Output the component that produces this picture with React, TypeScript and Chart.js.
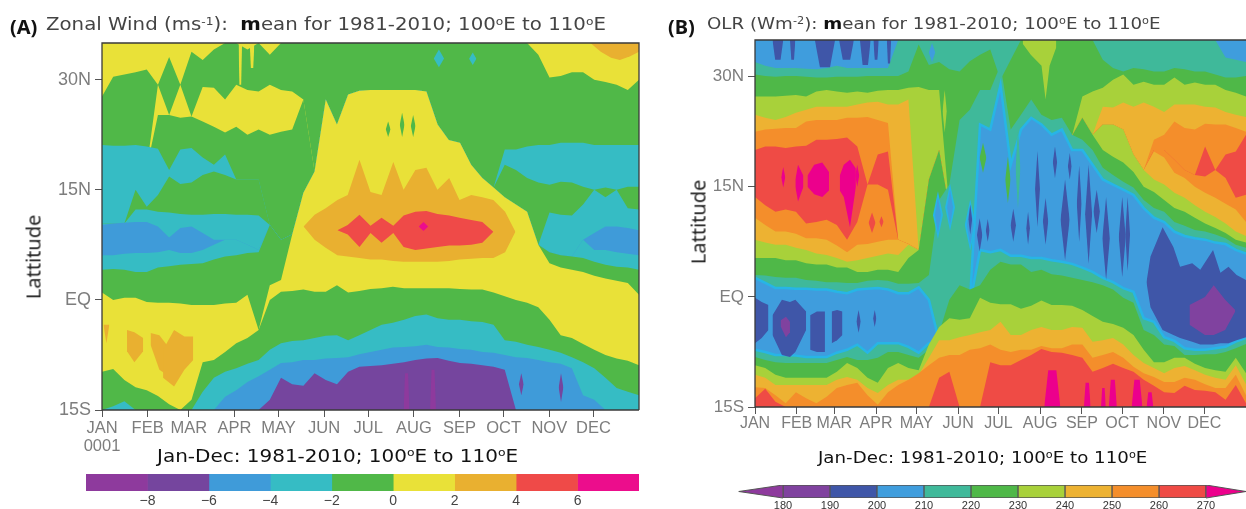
import React, { useEffect, useRef } from "react";
import { Chart, registerables } from "chart.js";

Chart.register(...registerables);

// ---------- shared axes ----------
const monthStarts = [0, 31, 59, 90, 120, 151, 181, 212, 243, 273, 304, 334];
const monthNames = ["JAN", "FEB", "MAR", "APR", "MAY", "JUN", "JUL", "AUG", "SEP", "OCT", "NOV", "DEC"];
const latTicks = [-15, 0, 15, 30];
const latLabels = ["15S", "EQ", "15N", "30N"];
const gridDays = Array.from({ length: 49 }, (_, i) => (i * 365) / 48);

// ---------- panel A colours ----------
const windColors = {
  pur2: "#8e3a9d", pur: "#75459e", blue: "#3f9bd9", teal: "#36bcc4", green: "#50b848",
  yellow: "#e9e138", orange: "#e9b030", red: "#ef4a48", pink: "#ec0d8c",
};

// ---------- panel A: latitude of each contour by time step (north to south) ----------
const windTop = gridDays.map(() => 35);
const windG1 = [27.7,30.4,30.7,31,31.4,29.3,33.1,29.3,33.8,32.7,34.1,35,35,34.1,35,33.4,35,35,35,35,35,35,35,35,35,35,35,35,35,35,35,35,35,35,35,35,35,35,35,33.4,30.3,30.5,31,31,30,29.7,29.3,28.6,30];
const windY2 = [18,18,18,18,18,29.3,25.2,29.3,25,29,28.9,27.3,29.3,28.6,28.4,29.3,28.6,28.4,27.3,17.5,27.3,23.9,28,28.5,28.6,28.6,28.6,28.6,28.6,28.4,12,12,12,12,12,12,12,12,12,12,12,12,12,12,12,12,12,12,12];
const windG2 = [18,18,18,18,18,25.2,25.2,24.8,25,24.3,23.6,22.8,23.6,22.5,23.2,22.5,22.9,23.2,27.3,17.5,27.3,23.9,28,28.5,28.6,28.6,28.6,28.6,28.6,28.4,12,12,12,12,12,12,12,12,12,12,12,12,12,12,12,12,12,12,12];
const windT1 = [21.1,21,21,21.1,20.9,20.6,17.7,20.5,20.7,19.4,18.4,19.8,16.4,16.4,16.4,10.2,8.2,8.9,14.6,17.5,27.3,23.9,28,28.5,28.6,28.6,28.6,28.6,28.6,28.4,23.9,21.8,21.4,18.4,16.6,15.3,20.5,20.5,20.9,21.1,21.1,21.4,21.4,21.4,21.1,21.1,21.1,21.1,21.1];
const windGm = [10.4,10.4,10.4,15,12.7,14.3,16.8,15.8,16,17,17.5,17,16.4,16.4,16.4,10.2,8.2,8.9,14.6,17.5,27.3,23.9,28,28.5,28.6,28.6,28.6,28.6,28.6,28.4,23.9,21.8,21.4,18.4,16.6,15.3,18.4,17.7,16.6,16,15.7,16.1,16,15.4,15,15.3,15,15.4,15.4];
const windT2 = [10.4,10.4,10.4,12.3,12.3,12,11.9,11.7,11.6,11.6,11.7,11.7,11.6,11.6,11.5,10.2,8.2,8.9,14.6,17.5,27.3,23.9,28,28.5,28.6,28.6,28.6,28.6,28.6,28.4,23.9,21.8,21.4,18.4,16.6,15.3,14,13,12,7.5,11.9,11.6,11.5,13,15,14,15,12.5,12.3];
const windB1 = [10.2,10.4,10.5,10.6,10.6,10,8.5,9.8,10,9.1,8.2,8.2,8.2,7.5,6.8,10.2,8.2,8.9,14.6,17.5,27.3,23.9,28,28.5,28.6,28.6,28.6,28.6,28.6,28.4,23.9,21.8,21.4,18.4,16.6,15.3,14,13,12,7.5,6.5,6.1,5.9,8.2,9.1,10,10,9.8,9.5];
const windT3 = [6.1,6.1,6.3,6.4,6.4,6.5,6.8,6.4,6.4,6.8,7.5,8.2,8.2,7.5,6.8,10.2,8.2,8.9,14.6,17.5,27.3,23.9,28,28.5,28.6,28.6,28.6,28.6,28.6,28.4,23.9,21.8,21.4,18.4,16.6,15.3,14,13,12,7.5,6.5,6.1,5.9,8.2,6.8,6.8,6.5,6.3,6.1];
const windG3 = [4.1,4.2,4.1,3.8,3.8,4.4,4.6,4.8,4.9,5,5.5,5.9,6.1,6.4,6.5,10.2,8.2,8.9,14.6,17.5,27.3,23.9,28,28.5,28.6,28.6,28.6,28.6,28.6,28.4,23.9,21.8,21.4,18.4,16.6,15.3,14,13,12,7.5,6.5,6.1,5.9,5.7,5.2,4.8,4.5,4.4,4.1];
const windY3 = [1,0,0.3,0.3,-0.3,-0.4,-0.4,-0.5,-0.7,-0.7,-0.7,-0.5,-0.4,0.7,-4.1,2,2.7,8.9,14.6,17.5,27.3,23.9,28,28.5,28.6,28.6,28.6,28.6,28.6,28.4,23.9,21.8,21.4,18.4,16.6,15.3,14,13,12,7.5,5,4.4,4.1,3.8,3.3,2.9,2.6,2.3,0.7];
const windG4 = [-9.8,-9.4,-10.9,-11.9,-12.3,-13.1,-14.2,-15,-13.6,-8.5,-8.2,-7.1,-5.9,-5.2,-4.1,0,1.1,1.2,1.4,1.1,1.1,2,1,1.2,1.5,1.6,1.8,1.6,1.6,1.6,1.6,1.6,1.5,1.4,1.4,1,0.5,0,-0.4,-1,-2.7,-4.8,-5.2,-6,-6.8,-7.5,-8,-8.3,-8.9];
const windT4 = [-15,-14.5,-13.8,-15,-15,-15,-15,-15,-15,-12.5,-10.6,-9.8,-9.3,-8.7,-8.2,-6.8,-5.9,-5.6,-5.5,-5.2,-4.9,-4.8,-5.5,-4.8,-4.1,-3.4,-3.1,-2.7,-2.2,-2,-2.5,-2.7,-2.7,-2.9,-3,-3.4,-5.5,-5.7,-6.1,-6.4,-6.8,-7.2,-7.8,-8.5,-9.3,-10.6,-12,-12.5,-13];
const windB2 = [-15,-15,-15,-15,-15,-15,-15,-15,-15,-15,-15,-13.2,-12.3,-11.2,-10.4,-9.5,-8.6,-8.5,-8.2,-8.2,-8,-7.9,-7.8,-7.4,-7.1,-6.8,-6.5,-6.4,-6.3,-6.1,-6.4,-6.5,-6.7,-6.8,-7.1,-7.2,-7.5,-7.8,-7.9,-8.2,-8.5,-8.7,-9.3,-13,-13.6,-15,-15,-15,-15];
const windP = [-15,-15,-15,-15,-15,-15,-15,-15,-15,-15,-15,-15,-15,-15,-15,-13.6,-10.6,-11.5,-11.7,-10,-10.9,-11.5,-9.8,-9.1,-9,-8.9,-8.7,-8.5,-8.2,-8,-7.9,-8.3,-8.6,-8.7,-8.9,-9.1,-9.5,-15,-15,-15,-15,-15,-15,-15,-15,-15,-15,-15,-15];

// panel A closed patches: days, upper latitude, lower latitude
const windOrangeDays = [137,144.5,152,160,167,175,182.5,190,198,205,213,220.5,228,236,243,251,258.5,266,274,281];
const windOrangeTop = [10,11.6,12.5,13.6,14.3,19.1,14.7,14.3,18.8,15,17.7,18,15,16.6,13.6,14.3,14,13.6,12,9.3];
const windOrangeBottom = [10,8.2,7.1,6.1,5.9,5.7,5.5,5.5,5.3,5.2,5.2,5.2,5.2,5.3,5.5,5.6,5.7,5.7,6.5,9.3];
const windRedDays = [160,167,175,182.5,190,198,205,213,220.5,228,236,243,251,258.5,266];
const windRedTop = [9.5,10.2,11.6,10.1,11.2,10.1,11.5,12,12.1,11.7,11.5,11.2,10.9,10.6,9.3];
const windRedBottom = [9.5,8.9,7.2,9.1,7.8,9.1,7.2,6.8,7,7.2,7.4,7.4,7.5,7.8,9.3];
const windOrangeSouthDays = [[17,22,28],[33,39,44],[41.5,49,56,62],[1,3,5]];
const windOrangeSouthTop = [[-4.1,-4.4,-5.2],[-4.5,-4.8,-6.1],[-6.8,-4.1,-5,-5],[-3.4,-3.4,-3.4]];
const windOrangeSouthBottom = [[-7,-8.5,-7],[-6.1,-9.5,-10.2],[-10.6,-11.8,-9.5,-8.2],[-3.4,-5.9,-3.4]];
const windOrangeNorthDays = [332,339,346,352,359,365];
const windOrangeNorthBottom = [35,33.8,33,32.7,33.2,33.8];
// [day, half width, latitude a, latitude b]
const windPinkDiamonds = [[218.5,3.2,10.6,9.4]];
const windGreenStreaks = [[194.5,1.6,24.3,22.2],[204,1.6,25.5,22.2],[211.5,1.6,25.2,22.2]];
const windTealStreaks = [[229,3.5,34.1,31.7],[252,2.5,33.7,32]];
const windYellowSpikes = [[94,1.2,29.3,35],[102,1.6,31.6,35]];
const windPurpleStreaks = [[285,1.6,-10,-13],[312,1.6,-10,-13.9]];
const windPur2Streaks = [[207,2,-10,-15],[225,2,-9.5,-15]];

// ---------- panel B colours ----------
const olrColors = {
  pur: "#80429f", indigo: "#3f56a8", blue: "#3f9ddd", cyan: "#27b5e6", teal: "#3fb99a",
  green: "#4fb848", lime: "#a8d13a", gold: "#edb232", orange: "#f48e2b", red: "#ef4b45", pink: "#ec008c",
};

// ---------- panel B: latitude of each contour by time step (north to south) ----------
const olrTop = gridDays.map(() => 35);
const olrT1 = [32,31.5,31.2,31.2,31.2,31.1,31,31.2,31.5,31.2,31.2,31.2,31.2,31.2,35,35,35,35,35,35,35,35,35,35,35,35,35,35,35,35,35,35,35,35,35,35,35,35,35,35,35,35,35,35,35,35,32.6,32.3,32];
const olrG1 = [30.3,30.1,30,30.1,30.1,30,29.9,29.9,30,30,30,30.1,30.1,30.1,30.1,30.7,34.4,31.6,32,31,30.7,32.1,33,33.7,29.6,32.3,35,35,35,35,35,35,35,35,32.3,31.2,30.7,31.2,31,30.7,30.7,31.2,31,30.7,30.7,30.3,29.9,29.9,30.1];
const olrL1 = [27.3,27.3,27.3,27.4,27.5,27.3,28,28.2,28,27.8,28,27.8,28.1,28.2,28.2,28.5,28.6,28.2,28.2,12,12,12,12,12,12,12,12,12,12,12,12,22,27.3,28,28.5,29.6,30.3,28.9,29.3,28.9,28.9,29.9,28.9,29.2,28.9,28.9,28.2,27.8,27.3];
const olrAu1 = [24.8,24.4,24.1,24.5,25.1,25.5,25.9,25.9,25.9,25.9,26.2,26.5,26.6,26.2,26.2,26.9,6.4,16,20,12,12,12,12,12,12,12,12,12,12,12,12,22,24.4,22.1,25.9,25.8,26.5,25.9,26.5,25.9,25.2,26.2,26.2,26.2,25.9,25.8,25.2,24.8,24.5];
const olrO1 = [22.5,22.8,22.9,23,23,23.9,24.1,24.1,24.1,24.4,24.4,24.5,24.1,23.7,7.8,7.2,6.4,16,20,12,12,12,12,12,12,12,12,12,12,12,12,22,24.4,22.1,23.5,23.5,22.8,19.4,17.3,21.4,22.1,23.9,23,22.8,23.6,23.5,23.5,23,22.5];
const olrR1 = [20,20.5,20.5,20.3,20.5,20.6,21.4,21.4,21.5,21.7,20.5,15.3,19.4,19.8,7.8,7.2,6.4,16,20,12,12,12,12,12,12,12,12,12,12,12,12,22,24.4,22.1,23.5,23.5,22.8,19.4,17.3,20,20,18.7,17.3,16.6,20.5,17.3,19.4,19.8,22.1];
const olrO2 = [13.6,12.5,11.6,11.9,11.6,10,10.2,10.5,9.8,7.8,10.2,15.3,15.3,14.6,7.8,7.2,6.4,16,20,12,12,12,12,12,12,12,12,12,12,12,12,22,24.4,22.1,23.5,23.5,22.8,19.4,17.3,20,20,18.7,17.3,16.6,16.4,17.3,16.2,13.5,13.9];
const olrAu2 = [10.8,9.8,8.9,8.9,8.6,8,8,7.8,7,6.1,7.1,7.2,7.5,7.8,7.8,7.2,6.4,16,20,12,12,12,12,12,12,12,12,12,12,12,12,22,24.4,22.1,23.5,23.5,22.8,19.4,17.3,19.8,19,16.9,16.2,15,14.2,13.5,12.7,11.9,10.2];
const olrLs = [7.8,7.4,7.1,7.1,6.7,6.4,5.9,5.7,5.3,4.8,5,5.3,5.6,5.9,5.7,7.1,6.4,16,20,12,12,12,12,12,12,12,12,12,12,12,12,22,24.4,22.1,23.5,23.5,22.8,19.4,17.3,16,15.3,14.2,13.5,12.5,11.6,10.9,10,8.9,8.3];
const olrL2 = [5.3,5.3,5.3,5,5,4.6,4.4,4.4,4,4,3.4,3.4,3.7,3.7,3.4,5.3,6.4,16,20,12,12,12,12,12,12,12,12,12,12,12,12,22,24.4,22.1,20,19.1,18.3,17,15,14.3,13.2,12.1,11.6,10.8,10,9.4,8.7,7.8,7.4];
const olrT2 = [3,2.9,2.7,2.6,2.6,2.3,2.2,2,2,1.9,1.9,2.2,2.3,2.2,1.8,1.8,1.9,3,13.2,15.3,24.1,25.5,28.2,28.2,31.6,22.8,24.8,26.9,24.8,24.1,24.4,22.1,21.4,20,17.6,16.6,15.7,14.9,13.2,12.1,11.6,10.2,9.7,9.1,8.9,8.5,8,7.1,6.7];
const olrB2 = [2.6,1.9,1.2,1.2,1.1,1.1,1,1,0.7,0.5,1,1.1,1.2,1,0.5,0.5,1.3,-0.4,-6,-3,0,-1,23.5,22.8,28.9,18,22.8,24.4,23.5,22.1,22.8,20,20,18,16,15.3,14.6,13.9,12.1,10.8,10.2,8.9,8.3,8,7.8,7.4,7.2,6.4,5.9];
const olrT3 = [-7.2,-7.5,-7.9,-7.9,-8,-8.2,-8.2,-8.2,-7.6,-7.2,-6.5,-7.6,-6.3,-6.3,-6.3,-6.8,-7.6,-6.3,-6,-3,0,-1,6.4,6.1,6.4,5.6,5.6,5.3,5.3,5,4.8,4.5,4,3.4,2.6,2,1.2,0.7,-2.9,-3.4,-5.5,-6,-7,-7.2,-7.2,-7,-6.8,-6.1,-5.6];
const olrG3 = [-8.2,-8.6,-8.9,-9,-9,-9,-9,-9,-8.6,-8.2,-8.6,-8.6,-8.3,-7.5,-7.5,-7.9,-8.3,-7.2,-4.9,-0.4,1.6,1,1.6,3.7,4.8,4.4,4.4,3.4,3.7,3.1,2.9,2.6,2.3,2,1.6,1,-0.1,-0.8,-4.5,-5.2,-6.5,-6.7,-7.9,-7.9,-7.8,-7.8,-7.5,-7,-6.4];
const olrL3 = [-9.3,-9.7,-10.6,-11,-11,-11,-11,-11,-10.2,-9,-9.7,-11,-11.7,-9.7,-9,-9.7,-10,-6.5,-4.1,-2.9,-3.1,-2.9,-0.1,-0.8,-1,-1,-1.6,-1.2,-0.5,-1.1,-1.1,-1.2,-1.8,-2.6,-3.4,-3.7,-4.2,-5.2,-7.2,-8.9,-8.9,-8.3,-8.3,-9.1,-9.7,-10,-10.2,-8.3,-10.4];
const olrAu3 = [-10.6,-11,-12,-12,-12,-12,-12,-12,-11.3,-10.9,-11.3,-12.4,-13.1,-12,-11.3,-11.3,-10.6,-8.3,-5.9,-5.9,-5.5,-5.2,-4.8,-4.5,-3.4,-5.2,-5.2,-4.5,-4.1,-4.5,-4.5,-4.1,-4.2,-6.1,-5.9,-5.6,-6.5,-7.9,-9,-9.7,-10.4,-9.7,-9.4,-10,-10.6,-11,-11.3,-9.3,-11.9];
const olrO3 = [-12.3,-12.4,-13.4,-14.5,-13,-13.8,-14.5,-13.6,-12.4,-12,-11.7,-13.4,-14.7,-13,-12,-11.3,-10.4,-9.3,-8.3,-7.9,-7.9,-7.2,-7,-6.5,-7.2,-7.5,-7.2,-7.2,-6.7,-7,-7,-6.5,-6.5,-8.3,-7.9,-7.5,-8.3,-9.5,-10.4,-10.9,-11.6,-11.6,-11,-11.3,-11.9,-12.4,-12.4,-10.6,-13.4];
const olrR3 = [-13.8,-12.5,-14.3,-15,-15,-15,-15,-15,-15,-15,-15,-15,-15,-15,-15,-15,-15,-15,-11,-10.2,-15,-15,-15,-8.9,-9.3,-9.3,-8.6,-7.9,-7.1,-7.5,-7.6,-7.9,-8.3,-10.2,-9.7,-9.1,-9.7,-10.2,-11.3,-12.1,-13,-13.1,-12.1,-12.7,-12.8,-13,-14,-12,-14.5];

// panel B closed patches
const olrIndigoDays = [[0,5,10],[13,20,26,30,38],[41,46,52],[57,61,65],[291,294,303,311,316,325,331,340.5,346,352,358,365]];
const olrIndigoTop = [[-0.1,-0.7,-1.1],[-2.5,-0.4,-0.7,-0.4,-2],[-2.5,-2,-2],[-2,-1.8,-2],[2,5.5,9.5,6.8,4.1,4.6,3.7,6.4,3.3,4.1,3,2.3]];
const olrIndigoBottom = [[-6.3,-5.6,-4.5],[-5.2,-7.9,-8.2,-7.5,-4.5],[-7.2,-7.5,-7.5],[-6.3,-5.9,-5.2],[2,-1.4,-4.5,-5.2,-5.6,-6.1,-6.5,-6.5,-6.3,-6.3,-5.9,-5.5]];
const olrPurpleDays = [[19,23,26],[323,334.5,341,349.5,357]];
const olrPurpleTop = [[-3.2,-2.7,-3.4],[-1.1,0,1.6,-0.4,-1.8]];
const olrPurpleBottom = [[-4,-5.5,-4.8],[-3.8,-5.2,-5.2,-4.5,-2]];
const olrLimeNorthDays = [199,205,213,216,219,224];
const olrLimeNorthBottom = [34.5,33,31.5,26.9,31.5,34];
const olrPinkBlobDays = [[30,32,36],[39,44,50,55],[63,66,70.6,75]];
const olrPinkBlobTop = [[16,18,16.5],[16.5,18,18.3,17],[16.5,18,18.7,17.5]];
const olrPinkBlobBottom = [[15,13,15],[15,14,13.6,14.5],[14.5,13.6,9.5,15]];
// [day, half width, latitude a, latitude b]
const olrBlueGlowStreaks = [[136,2.2,13.6,8.7],[145,2.2,14.6,9.8],[160,2.6,12.5,7.1]];
const olrIndigoStreaks = [[77,1.6,-1.8,-4.9],[89,1.2,-1.8,-4.1],[160,1.4,12.6,8.5],[167,2,10.7,6.2],[173,1.4,10.6,7.5],[192,2,12,7.5],[203,1.4,11.6,7.1],[210,1.8,19.9,9.5],[216,2,13.5,7.1],[223,1.6,20.5,16.2],[230.5,3.4,16,5],[234,1.4,19.6,16],[241,1.8,17.9,7.5],[248,2.6,18,4.5],[254,2.4,14.6,8.7],[261,2.8,13.6,2.3],[273,2.6,13.6,2.7],[277,1.8,13.6,3.5]];
const olrIndigoTopSpikes = [[17,4,32.3,35],[28,2,32.3,35],[52,7.5,31.3,35],[68,5.5,32.3,35],[82,4,31.6,35],[90,2,32.3,35],[99.6,1.6,31.8,35]];
const olrPinkStreaks = [[21,1.5,17.7,14.9],[76,1.5,18,15]];
const olrPinkSouthSpikes = [[221,6,-10,-15],[247,2.5,-11.7,-15],[259,1.8,-12.4,-15],[266,3,-11.3,-15],[284,4,-11.3,-15],[293.6,2.5,-13,-15]];
const olrRedStreaks = [[87,2.6,11.5,8.7],[94,1.6,11,9.5]];
const olrGreenStreaks = [[169.5,2.5,21,16.9],[188,2,19.1,12.8]];
const olrTealStreaks = [[195.5,1.8,23,12]];
const olrLimeStreaks = [[141,1.6,28.2,22.4]];
const olrBlueStreaks = [[131.6,2.4,34.6,32]];

// ---------- colour bars ----------
const windBarEdges = [-10, -8, -6, -4, -2, 0, 2, 4, 6, 8];
const windBarColors = [windColors.pur2, windColors.pur, windColors.blue, windColors.teal, windColors.green, windColors.yellow, windColors.orange, windColors.red, windColors.pink];
const windBarTicks = [-8, -6, -4, -2, 0, 2, 4, 6];
const olrBarEdges = [180, 190, 200, 210, 220, 230, 240, 250, 260, 270];
const olrBarColors = [olrColors.pur, olrColors.indigo, olrColors.blue, olrColors.teal, olrColors.green, olrColors.lime, olrColors.gold, olrColors.orange, olrColors.red];
const olrBarTicks = [180, 190, 200, 210, 220, 230, 240, 250, 260, 270];

type Layer = { values: number[]; color: string; edge?: string };
type Patch = { color: string; days: number[]; top: number[]; bottom: number[] };

const diamond = (color: string, s: number[]): Patch => {
  const mid = (s[2] + s[3]) / 2;
  return { color, days: [s[0] - s[1], s[0], s[0] + s[1]], top: [mid, s[2], mid], bottom: [mid, s[3], mid] };
};
const spike = (color: string, s: number[]): Patch => ({
  color,
  days: [s[0] - s[1], s[0] - s[1] / 2, s[0] + s[1] / 2, s[0] + s[1]],
  top: [s[3], s[2], s[2], s[3]],
  bottom: [s[3], s[3], s[3], s[3]],
});
const groupPatches = (color: string, d: number[][], t: number[][], b: number[][]): Patch[] =>
  d.map((days, i) => ({ color, days, top: t[i], bottom: b[i] }));

const W = windColors;
const windLayers: Layer[] = [
  { values: windTop, color: W.yellow }, { values: windG1, color: W.green }, { values: windY2, color: W.yellow },
  { values: windG2, color: W.green }, { values: windT1, color: W.teal }, { values: windGm, color: W.green },
  { values: windT2, color: W.teal }, { values: windB1, color: W.blue }, { values: windT3, color: W.teal },
  { values: windG3, color: W.green }, { values: windY3, color: W.yellow }, { values: windG4, color: W.green },
  { values: windT4, color: W.teal }, { values: windB2, color: W.blue }, { values: windP, color: W.pur },
];
const windPatches: Patch[] = [
  { color: W.orange, days: windOrangeDays, top: windOrangeTop, bottom: windOrangeBottom },
  { color: W.red, days: windRedDays, top: windRedTop, bottom: windRedBottom },
  ...groupPatches(W.orange, windOrangeSouthDays, windOrangeSouthTop, windOrangeSouthBottom),
  { color: W.orange, days: windOrangeNorthDays, top: windOrangeNorthDays.map(() => 35), bottom: windOrangeNorthBottom },
  ...windPinkDiamonds.map((s) => diamond(W.pink, s)),
  ...windGreenStreaks.map((s) => diamond(W.green, s)),
  ...windTealStreaks.map((s) => diamond(W.teal, s)),
  ...windYellowSpikes.map((s) => spike(W.yellow, s)),
  ...windPurpleStreaks.map((s) => diamond(W.pur, s)),
  ...windPur2Streaks.map((s) => spike(W.pur2, s)),
];

const O = olrColors;
const olrLayers: Layer[] = [
  { values: olrTop, color: O.blue }, { values: olrT1, color: O.teal }, { values: olrG1, color: O.green },
  { values: olrL1, color: O.lime }, { values: olrAu1, color: O.gold }, { values: olrO1, color: O.orange },
  { values: olrR1, color: O.red }, { values: olrO2, color: O.orange }, { values: olrAu2, color: O.gold },
  { values: olrLs, color: O.lime }, { values: olrL2, color: O.green }, { values: olrT2, color: O.teal },
  { values: olrB2, color: O.blue, edge: O.cyan }, { values: olrT3, color: O.teal, edge: O.cyan },
  { values: olrG3, color: O.green }, { values: olrL3, color: O.lime }, { values: olrAu3, color: O.gold },
  { values: olrO3, color: O.orange }, { values: olrR3, color: O.red },
];
const olrPatches: Patch[] = [
  ...olrGreenStreaks.map((s) => diamond(O.green, s)),
  ...olrTealStreaks.map((s) => diamond(O.teal, s)),
  ...olrBlueGlowStreaks.map((s) => diamond(O.cyan, [s[0], s[1] + 1.5, s[2] + 0.8, s[3] - 0.8])),
  ...olrBlueGlowStreaks.map((s) => diamond(O.blue, s)),
  ...groupPatches(O.indigo, olrIndigoDays, olrIndigoTop, olrIndigoBottom),
  ...groupPatches(O.pur, olrPurpleDays, olrPurpleTop, olrPurpleBottom),
  { color: O.lime, days: olrLimeNorthDays, top: olrLimeNorthDays.map(() => 35), bottom: olrLimeNorthBottom },
  ...olrIndigoStreaks.map((s) => diamond(O.indigo, s)),
  ...olrIndigoTopSpikes.map((s) => spike(O.indigo, s)),
  ...groupPatches(O.pink, olrPinkBlobDays, olrPinkBlobTop, olrPinkBlobBottom),
  ...olrPinkStreaks.map((s) => diamond(O.pink, s)),
  ...olrPinkSouthSpikes.map((s) => spike(O.pink, s)),
  ...olrRedStreaks.map((s) => diamond(O.red, s)),
  ...olrLimeStreaks.map((s) => diamond(O.lime, s)),
  ...olrBlueStreaks.map((s) => diamond(O.blue, s)),
];

const AXIS_FONT = "'Liberation Sans', Arial, sans-serif";

function heatChart(
  canvas: HTMLCanvasElement,
  layers: Layer[],
  patches: Patch[],
  o: { axisW: number; axisH: number; top: number; right: number; latSize: number; monthSize: number; firstLabel: string[] | string; frameRight: boolean; tickPad: number }
) {
  const datasets: any[] = [];
  layers.forEach((l) => {
    datasets.push({
      type: "line",
      data: gridDays.map((d, i) => ({ x: d, y: l.values[i] })),
      fill: "start",
      backgroundColor: l.color,
      borderColor: l.edge ?? l.color,
      borderWidth: l.edge ? 2.5 : 0,
      pointRadius: 0,
      tension: 0,
      order: -datasets.length,
    });
  });
  patches.forEach((p) => {
    const lowIndex = datasets.length + 1;
    datasets.push({
      type: "line",
      data: p.days.map((d, i) => ({ x: d, y: p.top[i] })),
      fill: lowIndex,
      backgroundColor: p.color,
      borderWidth: 0,
      pointRadius: 0,
      tension: 0,
      order: -datasets.length,
    });
    datasets.push({
      type: "line",
      data: p.days.map((d, i) => ({ x: d, y: p.bottom[i] })),
      fill: false,
      borderWidth: 0,
      pointRadius: 0,
      tension: 0,
      order: -datasets.length,
    });
  });
  return new Chart(canvas, {
    type: "line",
    data: { datasets },
    options: {
      animation: false,
      responsive: false,
      layout: { autoPadding: false, padding: { top: o.top, right: o.right, left: 0, bottom: 0 } },
      plugins: { legend: { display: false }, tooltip: { enabled: false } },
      scales: {
        x: {
          type: "linear",
          min: 0,
          max: 365,
          border: { display: false },
          grid: { drawOnChartArea: false, tickLength: 7, tickColor: "#555" },
          afterBuildTicks: (s: any) => { s.ticks = monthStarts.map((value) => ({ value })); },
          afterFit: (s: any) => { s.height = o.axisH; },
          ticks: {
            autoSkip: false,
            maxRotation: 0,
            padding: o.tickPad,
            color: "#7d7d7d",
            font: { family: AXIS_FONT, size: o.monthSize, lineHeight: 1.1 },
            callback: (_v: any, i: number) => (i === 0 ? o.firstLabel : monthNames[i]),
          },
        },
        y: {
          type: "linear",
          min: -15,
          max: 35,
          border: { display: false },
          grid: { drawOnChartArea: false, tickLength: 7, tickColor: "#555" },
          afterBuildTicks: (s: any) => { s.ticks = latTicks.map((value) => ({ value })); },
          afterFit: (s: any) => { s.width = o.axisW; },
          ticks: {
            padding: 4,
            color: "#7d7d7d",
            font: { family: AXIS_FONT, size: o.latSize },
            callback: (_v: any, i: number) => latLabels[i],
          },
        },
      },
    },
    plugins: [
      {
        id: "frame",
        afterDatasetsDraw(c: any) {
          const { left, right, top, bottom } = c.chartArea;
          const g = c.ctx;
          g.save();
          g.strokeStyle = "#3a3a3a";
          g.lineWidth = 1.3;
          g.beginPath();
          if (o.frameRight) {
            g.moveTo(right, bottom);
            g.lineTo(right, top);
          } else {
            g.moveTo(right, top);
          }
          g.lineTo(left, top);
          g.lineTo(left, bottom);
          g.lineTo(right, bottom);
          g.stroke();
          g.restore();
        },
      },
    ],
  } as any);
}

function barChart(
  canvas: HTMLCanvasElement,
  edges: number[],
  colors: string[],
  ticks: number[],
  o: { min: number; max: number; axisH: number; size: number; color: string; pad: number; outline?: string; arrows?: { low: number; high: number; lowColor: string; highColor: string } }
) {
  return new Chart(canvas, {
    type: "bar",
    data: {
      labels: [""],
      datasets: colors.map((c, i) => ({
        data: [[edges[i], edges[i + 1]]],
        backgroundColor: c,
        borderColor: o.outline ?? c,
        borderWidth: o.outline ? 1 : 0,
        borderSkipped: false,
        grouped: false,
        barPercentage: 1,
        categoryPercentage: 1,
      })),
    },
    options: {
      indexAxis: "y",
      animation: false,
      responsive: false,
      layout: { autoPadding: false, padding: 0 },
      plugins: { legend: { display: false }, tooltip: { enabled: false } },
      scales: {
        y: { display: false },
        x: {
          type: "linear",
          min: o.min,
          max: o.max,
          border: { display: false },
          grid: { display: false, drawTicks: false },
          afterBuildTicks: (s: any) => { s.ticks = ticks.map((value) => ({ value })); },
          afterFit: (s: any) => { s.height = o.axisH; },
          ticks: {
            autoSkip: false,
            maxRotation: 0,
            padding: o.pad,
            color: o.color,
            font: { family: AXIS_FONT, size: o.size },
            callback: (v: any) => String(v).replace("-", "\u2212"),
          },
        },
      },
    },
    plugins: [
      {
        id: "arrows",
        afterDatasetsDraw(c: any) {
          if (!o.arrows) return;
          const { top, bottom } = c.chartArea;
          const x = c.scales.x;
          const mid = (top + bottom) / 2;
          const g = c.ctx;
          const tri = (from: number, to: number, col: string) => {
            g.beginPath();
            g.moveTo(x.getPixelForValue(from), top);
            g.lineTo(x.getPixelForValue(to), mid);
            g.lineTo(x.getPixelForValue(from), bottom);
            g.closePath();
            g.fillStyle = col;
            g.fill();
            g.strokeStyle = "#555";
            g.lineWidth = 1;
            g.stroke();
          };
          tri(edges[0], o.arrows.low, o.arrows.lowColor);
          tri(edges[edges.length - 1], o.arrows.high, o.arrows.highColor);
        },
      },
    ],
  } as any);
}

const abs = (left: number, top: number, extra: React.CSSProperties = {}): React.CSSProperties => ({
  position: "absolute",
  left,
  top,
  whiteSpace: "nowrap",
  lineHeight: 1,
  transformOrigin: "left center",
  ...extra,
});
const TITLE_FONT = "'DejaVu Sans', sans-serif";
const supStyle: React.CSSProperties = { fontSize: "0.62em", verticalAlign: "0.5em", lineHeight: 0 };

function Deg() {
  return <sup style={supStyle}>o</sup>;
}

export default function App() {
  const a = useRef<HTMLCanvasElement>(null);
  const b = useRef<HTMLCanvasElement>(null);
  const ca = useRef<HTMLCanvasElement>(null);
  const cb = useRef<HTMLCanvasElement>(null);

  useEffect(() => {
    const charts = [
      heatChart(a.current!, windLayers, windPatches, { axisW: 102, axisH: 50, top: 43, right: 11, latSize: 18, monthSize: 16.5, firstLabel: ["JAN", "0001"], frameRight: true, tickPad: 2 }),
      heatChart(b.current!, olrLayers, olrPatches, { axisW: 95, axisH: 53, top: 40, right: 0, latSize: 17, monthSize: 16, firstLabel: "JAN", frameRight: false, tickPad: 1 }),
      barChart(ca.current!, windBarEdges, windBarColors, windBarTicks, { min: -10, max: 8, axisH: 18, size: 14, color: "#444", pad: 2 }),
      barChart(cb.current!, olrBarEdges, olrBarColors, olrBarTicks, { min: 169.8, max: 278.5, axisH: 11, size: 11, color: "#333", pad: 1, outline: "#555", arrows: { low: 170.6, high: 278.5, lowColor: "#8e3a9d", highColor: "#ec008c" } }),
    ];
    return () => charts.forEach((c) => c.destroy());
  }, []);

  return (
    <div style={{ position: "absolute", left: 0, top: 0, width: 1246, height: 509, overflow: "hidden", background: "#fff" }}>
      <canvas ref={a} width={650} height={460} style={{ position: "absolute", left: 0, top: 0, display: "block" }} />
      <canvas ref={b} width={586} height={460} style={{ position: "absolute", left: 660, top: 0, display: "block" }} />
      <canvas ref={ca} width={553} height={35} style={{ position: "absolute", left: 86, top: 474, display: "block" }} />
      <canvas ref={cb} width={511} height={24} style={{ position: "absolute", left: 735, top: 485, display: "block" }} />

      <div style={abs(10, 13, { font: `700 20px 'Noto Sans', sans-serif`, color: "#111" })}>(A)</div>
      <div style={abs(46, 14, { font: `400 17.5px ${TITLE_FONT}`, color: "#444", transform: "scaleX(1.129)" })}>
        Zonal Wind (ms<sup style={supStyle}>-1</sup>):&nbsp; <b style={{ color: "#111" }}>m</b>ean for 1981-2010; 100<Deg />E to 110<Deg />E
      </div>
      <div style={abs(668, 13, { font: `700 20px 'Noto Sans', sans-serif`, color: "#111" })}>(B)</div>
      <div style={abs(707, 14, { font: `400 16.5px ${TITLE_FONT}`, color: "#444", transform: "scaleX(1.105)" })}>
        OLR (Wm<sup style={supStyle}>-2</sup>): <b style={{ color: "#111" }}>m</b>ean for 1981-2010; 100<Deg />E to 110<Deg />E
      </div>
      <div style={abs(157, 445, { font: `400 18px ${TITLE_FONT}`, color: "#111", transform: "scaleX(1.11)" })}>
        Jan-Dec: 1981-2010; 100<Deg />E to 110<Deg />E
      </div>
      <div style={abs(818, 448, { font: `400 16.5px ${TITLE_FONT}`, color: "#111", transform: "scaleX(1.104)" })}>
        Jan-Dec: 1981-2010; 100<Deg />E to 110<Deg />E
      </div>
      <div style={{ ...abs(33, 257, { font: `400 20px 'Noto Sans', sans-serif`, color: "#222" }), transformOrigin: "center", transform: "translate(-50%,-50%) rotate(-90deg)" }}>Lattitude</div>
      <div style={{ ...abs(698, 222, { font: `400 20px 'Noto Sans', sans-serif`, color: "#222" }), transformOrigin: "center", transform: "translate(-50%,-50%) rotate(-90deg)" }}>Lattitude</div>
    </div>
  );
}
